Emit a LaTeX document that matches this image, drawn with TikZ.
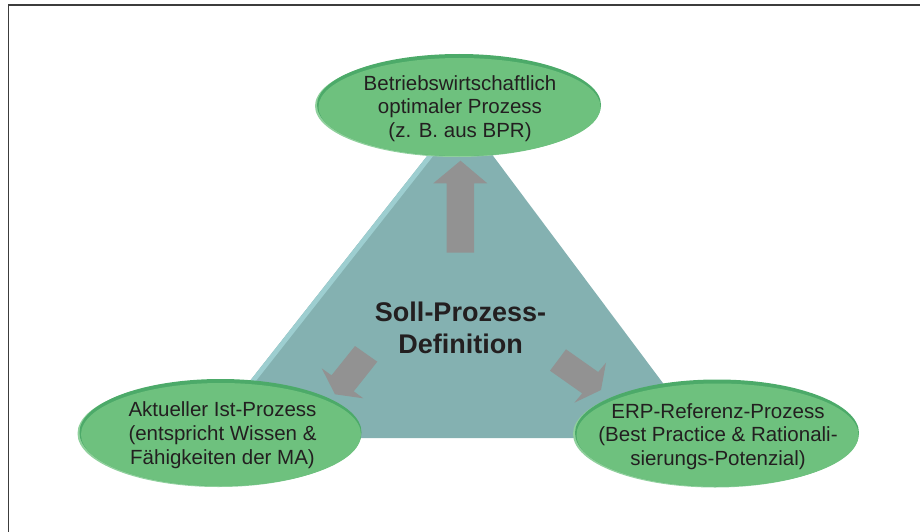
\documentclass[tikz,border=0pt]{standalone}
\usepackage{fontspec}
\setmainfont{Liberation Sans}
\usetikzlibrary{shapes.geometric}

\definecolor{leaf}{HTML}{6EC17E}
\definecolor{leafdark}{HTML}{4CAA69}
\definecolor{leaflight}{HTML}{8FD09C}
\definecolor{pyramid}{HTML}{84B1B1}
\definecolor{pyramidedge}{HTML}{9DCED0}
\definecolor{arrowgray}{HTML}{929292}
\definecolor{ink}{HTML}{231F20}
\definecolor{framegray}{HTML}{3C3C3C}

\begin{document}
\begin{tikzpicture}[x=1pt,y=-1pt,
  disc/.style={ellipse, inner sep=0pt, outer sep=0pt, fill=leaf},
  disclabel/.style={align=center, font=\fontsize{20.5}{23.7}\selectfont, text=ink, inner sep=0pt},
  corelabel/.style={align=center, font=\fontsize{27}{31.7}\selectfont\bfseries, text=ink, inner sep=0pt},
  blockarrow/.style={fill=arrowgray}]
\useasboundingbox (0,0) rectangle (920,532);

% page frame (left and top rules)
\draw[framegray, line width=1.6pt] (8.5,532) -- (8.5,5) -- (920,5);

% central triangle with a light bevel on its left edge
\coordinate (apex) at (461,113);
\coordinate (baseL) at (205,438);
\coordinate (baseR) at (704,438);
\fill[pyramid] (apex) -- (baseL) -- (baseR) -- cycle;
\begin{scope}
  \clip (apex) -- (baseL) -- (baseR) -- cycle;
  \fill[pyramidedge] (apex) -- (baseL) -- (211,438) -- (467,113) -- cycle;
\end{scope}

% block arrows pointing to the three sources
\fill[blockarrow] (446.7,252.7) -- (446.7,183.3) -- (433.3,183.3) -- (460.5,160.7)
  -- (487.3,183.3) -- (474,183.3) -- (474,252.7) -- cycle;
\fill[blockarrow] (355,346) -- (331.5,375.3) -- (321.7,368.3) -- (335,394.3)
  -- (363.3,398.3) -- (353.8,391.3) -- (377.3,361.7) -- cycle;
\fill[blockarrow] (566,349.3) -- (598.2,372) -- (606,362.7) -- (601,390)
  -- (574.3,402.7) -- (582.2,393.4) -- (550,370.7) -- cycle;

% top disc
\fill[leaflight] (457,106) ellipse [x radius=142pt, y radius=51pt];
\fill[leafdark] (459,105) ellipse [x radius=142pt, y radius=51pt];
\node[disc, minimum width=282pt, minimum height=98pt] (optimal) at (459.5,107) {};

% left disc
\fill[leaflight] (218.5,433.5) ellipse [x radius=141pt, y radius=53.5pt];
\fill[leafdark] (220.5,432.5) ellipse [x radius=141pt, y radius=53.5pt];
\node[disc, minimum width=280pt, minimum height=103pt] (current) at (221,434.5) {};

% right disc
\fill[leaflight] (715,434) ellipse [x radius=142pt, y radius=53.5pt];
\fill[leafdark] (717,433) ellipse [x radius=142pt, y radius=53.5pt];
\node[disc, minimum width=282pt, minimum height=103pt] (reference) at (717.5,435) {};

% labels
\node[disclabel] (optimaltext) at (460,108.4)
  {Betriebswirtschaftlich\\optimaler Prozess\\(z. B. aus BPR)};
\node[disclabel] (currenttext) at (222.5,435.1)
  {Aktueller Ist-Prozess\\(entspricht Wissen \&\\Fähigkeiten der MA)};
\node[disclabel] (referencetext) at (718,436.7)
  {ERP-Referenz-Prozess\\(Best Practice \& Rationali-\\sierungs-Potenzial)};
\node[corelabel] (target) at (460.5,327.7) {Soll-Prozess-\\Definition};
\end{tikzpicture}
\end{document}
